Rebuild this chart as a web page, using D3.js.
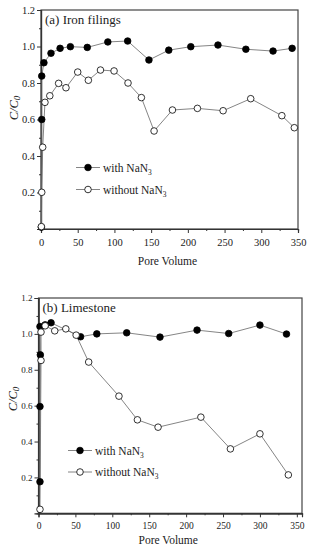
<!DOCTYPE html>
<html lang="en">
<head>
  <meta charset="UTF-8">
  <title>C/C0 vs Pore Volume</title>
  <style>
    body { margin: 0; padding: 0; background: #fff; }
    svg text { font-family: "Liberation Serif", "Times New Roman", serif; fill: #222; }
    .domain, .tick line { stroke: #333; }
  </style>
  <script src="https://d3js.org/d3.v7.min.js"></script>
</head>
<body>
  <div id="chart"></div>
  <script>
    // (a) Iron filings
    const aWithX    = [0.5, 1, 1, 4, 13.6, 26, 40, 63, 91, 118, 147, 174, 204, 241, 279, 316, 342];
    const aWithY    = [0.01, 0.60, 0.838, 0.911, 0.963, 0.99, 0.999, 0.995, 1.025, 1.03, 0.926, 0.98, 0.999, 1.008, 0.985, 0.975, 0.99];
    const aWithoutX = [0.5, 1, 2.3, 5.4, 12, 24, 34, 50, 64.5, 81, 99.5, 118.5, 136.7, 154, 179, 213, 248, 285.6, 328, 345];
    const aWithoutY = [0.013, 0.201, 0.448, 0.694, 0.73, 0.798, 0.774, 0.86, 0.815, 0.871, 0.866, 0.80, 0.72, 0.537, 0.652, 0.661, 0.648, 0.714, 0.621, 0.555];

    // (b) Limestone
    const bWithX    = [2, 2, 2.5, 2, 9, 17, 57, 79, 119.5, 164.6, 214.8, 257.7, 300, 336];
    const bWithY    = [0.176, 0.595, 0.883, 1.041, 1.05, 1.062, 0.984, 1.0, 1.006, 0.982, 1.021, 1.002, 1.049, 0.999];
    const bWithoutX = [2, 3.4, 3.4, 9, 22, 37, 51, 68, 109, 134, 162, 220, 260, 300, 338.5];
    const bWithoutY = [0.022, 0.852, 1.01, 1.045, 1.017, 1.028, 0.993, 0.843, 0.653, 0.521, 0.48, 0.536, 0.359, 0.443, 0.214];

    const xTicks = [0, 50, 100, 150, 200, 250, 300, 350];
    const xMinor = [25, 75, 125, 175, 225, 275, 325];
    const yTicks = [0.2, 0.4, 0.6, 0.8, 1.0, 1.2];
    const yMinor = [0.1, 0.3, 0.5, 0.7, 0.9, 1.1];

    const svg = d3.select("#chart").append("svg")
      .attr("width", 313).attr("height", 550);

    const zip = (xs, ys) => xs.map((x, i) => ({ x: x, y: ys[i] }));

    function panel(o) {
      const x = d3.scaleLinear().domain([0, o.xMax]).range([o.left, o.right]);
      const y = d3.scaleLinear().domain([0, 1.2]).range([o.bottom, o.top]);
      const g = svg.append("g");

      // frame
      g.append("rect")
        .attr("x", o.left).attr("y", o.top)
        .attr("width", o.right - o.left).attr("height", o.bottom - o.top)
        .attr("fill", "none").attr("stroke", "#444").attr("stroke-width", 1.2);

      // axes
      const xa = g.append("g").attr("transform", `translate(0,${o.bottom})`)
        .call(d3.axisBottom(x).tickValues(xTicks).tickSize(4).tickPadding(o.xPad).tickFormat(d3.format("d")));
      xa.selectAll("text").style("font-size", o.tickFont + "px");
      g.append("g").attr("transform", `translate(0,${o.bottom})`)
        .call(d3.axisBottom(x).tickValues(xMinor).tickSize(2).tickFormat(""));

      const ya = g.append("g").attr("transform", `translate(${o.left},0)`)
        .call(d3.axisLeft(y).tickValues(yTicks).tickSize(4).tickPadding(2).tickFormat(d3.format(".1f")));
      ya.selectAll("text").style("font-size", o.yTickFont + "px");
      g.append("g").attr("transform", `translate(${o.left},0)`)
        .call(d3.axisLeft(y).tickValues(yMinor).tickSize(2).tickFormat(""));
      g.selectAll(".domain").attr("stroke-width", 1.2);

      const line = d3.line().x(d => x(d.x)).y(d => y(d.y));
      const series = [
        { data: zip(o.withX, o.withY), fill: "#000" },
        { data: zip(o.withoutX, o.withoutY), fill: "#fff" }
      ];
      series.forEach(s => {
        g.append("path").datum(s.data)
          .attr("d", line).attr("fill", "none")
          .attr("stroke", "#666").attr("stroke-width", 0.8);
      });
      series.forEach(s => {
        g.selectAll(null).data(s.data).enter().append("circle")
          .attr("cx", d => x(d.x)).attr("cy", d => y(d.y)).attr("r", 3.3)
          .attr("fill", s.fill).attr("stroke", "#000").attr("stroke-width", 0.8);
      });

      // title
      g.append("text").attr("x", o.left + 4).attr("y", o.top + 13.5)
        .style("font-size", "13px").text(o.title);

      // legend
      const lg = [
        { fill: "#000", label: "with NaN" },
        { fill: "#fff", label: "without NaN" }
      ];
      lg.forEach((d, i) => {
        const ly = o.legY + i * o.legGap;
        g.append("line").attr("x1", o.legX - 12).attr("x2", o.legX + 12)
          .attr("y1", ly).attr("y2", ly).attr("stroke", "#666").attr("stroke-width", 0.8);
        g.append("circle").attr("cx", o.legX).attr("cy", ly).attr("r", 3.3)
          .attr("fill", d.fill).attr("stroke", "#000").attr("stroke-width", 0.8);
        const t = g.append("text").attr("x", o.legX + 15).attr("y", ly + 4)
          .style("font-size", o.legFont + "px").text(d.label);
        t.append("tspan").attr("dy", 3).style("font-size", (o.legFont * 0.65) + "px").text("3");
      });

      // axis labels
      g.append("text").attr("x", (o.left + o.right) / 2 - 2).attr("y", o.bottom + o.xLabOff)
        .attr("text-anchor", "middle").style("font-size", "11.5px").text("Pore Volume");

      const yl = g.append("text")
        .attr("transform", `translate(${o.yLabX},${o.yLabY}) rotate(-90)`)
        .attr("text-anchor", "middle").style("font-size", "12.5px").style("font-style", "italic");
      yl.append("tspan").text("C/C");
      yl.append("tspan").attr("dy", 2).style("font-size", "9px").text("0");
    }

    panel({
      left: 41, right: 298, top: 10, bottom: 229, xMax: 350,
      withX: aWithX, withY: aWithY, withoutX: aWithoutX, withoutY: aWithoutY,
      title: "(a) Iron filings", tickFont: 10.5, yTickFont: 10.5, xPad: 6,
      legX: 88, legY: 167.5, legGap: 22, legFont: 11.5, xLabOff: 36, yLabX: 17.5, yLabY: 108
    });

    panel({
      left: 38.5, right: 302, top: 298, bottom: 513.3, xMax: 357,
      withX: bWithX, withY: bWithY, withoutX: bWithoutX, withoutY: bWithoutY,
      title: "(b) Limestone", tickFont: 9.5, yTickFont: 9, xPad: 5,
      legX: 80, legY: 450.5, legGap: 21.5, legFont: 11.5, xLabOff: 31, yLabX: 16.5, yLabY: 399
    });
  </script>
</body>
</html>
